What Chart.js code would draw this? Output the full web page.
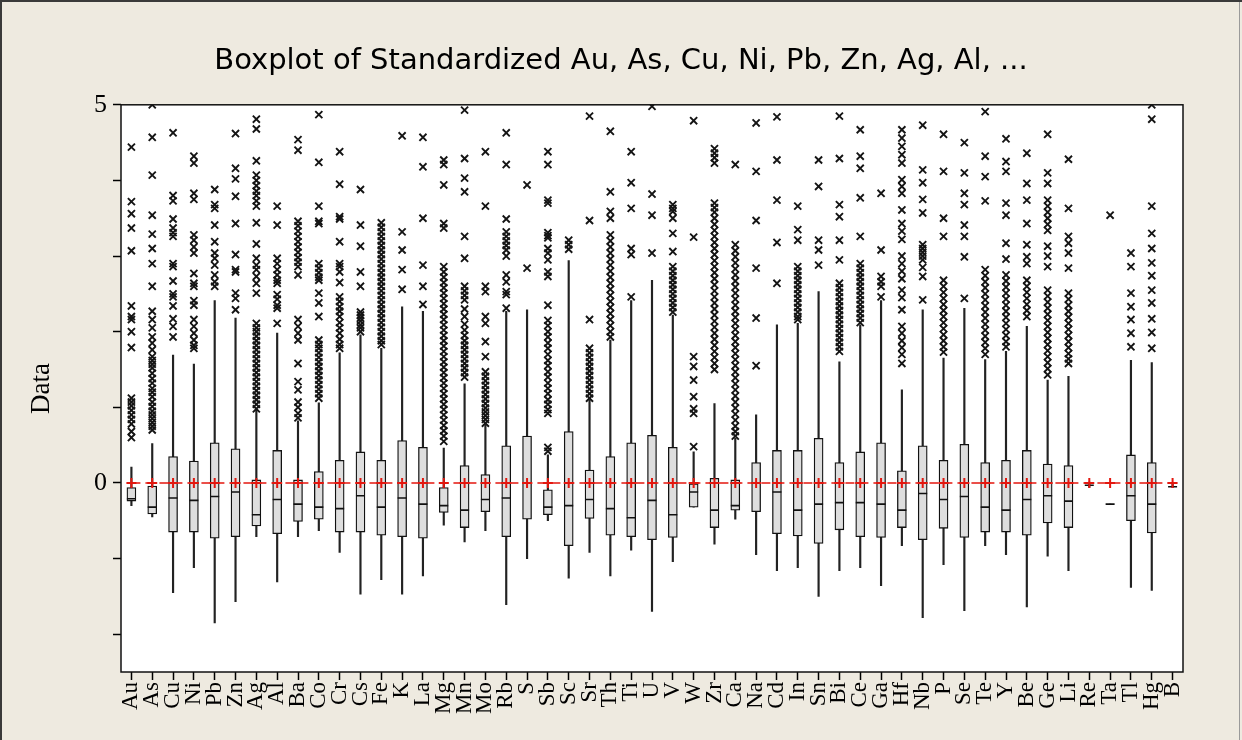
<!DOCTYPE html>
<html>
<head>
<meta charset="utf-8">
<script src="https://cdn.jsdelivr.net/npm/chart.js@4.4.1/dist/chart.umd.min.js"></script>
<style>
html, body { margin: 0; padding: 0; background: #EEEAE0; }
canvas { display: block; }
</style>
</head>
<body>
<canvas id="boxplot" width="1242" height="740"></canvas>
<script>
// standardized element values
const elements = ['Au', 'As', 'Cu', 'Ni', 'Pb', 'Zn', 'Ag', 'Al', 'Ba', 'Co', 'Cr', 'Cs', 'Fe', 'K', 'La', 'Mg', 'Mn', 'Mo', 'Rb', 'S',
    'Sb', 'Sc', 'Sr', 'Th', 'Ti', 'U', 'V', 'W', 'Zr', 'Ca', 'Na', 'Cd', 'In', 'Sn', 'Bi', 'Ce', 'Ga', 'Hf', 'Nb', 'P',
    'Se', 'Te', 'Y', 'Be', 'Ge', 'Li', 'Re', 'Ta', 'Tl', 'Hg', 'B'];

const whiskerHigh = [0.21, 0.52, 1.69, 1.57, 2.41, 2.18, 0.96, 1.98, 0.82, 1.06, 1.72, 1.96, 1.78, 2.33, 2.27, 0.46, 1.31, 0.77, 2.27, 2.29,
    0.37, 2.94, 1.1, 1.89, 2.41, 2.68, 2.22, 0.41, 1.05, 0.59, 0.9, 2.09, 2.11, 2.53, 1.6, 2.09, 2.41, 1.23, 2.29, 1.65,
    2.31, 1.63, 1.74, 2.07, 1.36, 1.41, 0.01, -0.28, 1.62, 1.59, 0.0];
const q3 = [-0.06, -0.04, 0.35, 0.29, 0.53, 0.45, 0.04, 0.43, 0.04, 0.15, 0.30, 0.41, 0.30, 0.56, 0.47, -0.06, 0.23, 0.11, 0.49, 0.62,
    -0.09, 0.68, 0.17, 0.35, 0.53, 0.63, 0.47, -0.01, 0.06, 0.04, 0.27, 0.43, 0.43, 0.59, 0.27, 0.41, 0.53, 0.16, 0.49, 0.30,
    0.51, 0.27, 0.30, 0.43, 0.25, 0.23, -0.03, -0.28, 0.37, 0.27, -0.05];
const median = [-0.21, -0.32, -0.2, -0.23, -0.18, -0.12, -0.42, -0.22, -0.28, -0.32, -0.34, -0.17, -0.32, -0.2, -0.28, -0.3, -0.36, -0.22, -0.2, 0.0,
    -0.32, -0.3, -0.22, -0.34, -0.46, -0.23, -0.42, -0.12, -0.36, -0.3, 0.0, -0.12, -0.36, -0.28, -0.26, -0.26, -0.28, -0.36, -0.14, -0.22,
    -0.18, -0.32, -0.36, -0.22, -0.17, -0.24, -0.03, -0.28, -0.17, -0.28, -0.05];
const q1 = [-0.24, -0.41, -0.65, -0.65, -0.73, -0.71, -0.57, -0.67, -0.51, -0.48, -0.65, -0.65, -0.69, -0.71, -0.73, -0.39, -0.59, -0.38, -0.71, -0.48,
    -0.42, -0.83, -0.47, -0.69, -0.71, -0.75, -0.72, -0.32, -0.59, -0.36, -0.38, -0.67, -0.70, -0.8, -0.62, -0.71, -0.72, -0.59, -0.75, -0.6,
    -0.72, -0.65, -0.65, -0.69, -0.53, -0.59, -0.03, -0.28, -0.5, -0.66, -0.05];
const whiskerLow = [-0.30, -0.45, -1.45, -1.12, -1.85, -1.57, -0.71, -1.31, -0.71, -0.63, -0.92, -1.47, -1.28, -1.47, -1.23, -0.56, -0.78, -0.63, -1.61, -1.0,
    -0.5, -1.26, -0.92, -1.23, -0.89, -1.7, -1.04, -0.32, -0.81, -0.48, -0.95, -1.16, -1.12, -1.5, -1.16, -1.12, -1.36, -0.83, -1.78, -1.08,
    -1.69, -0.83, -0.95, -1.64, -0.97, -1.16, -0.06, -0.28, -1.38, -1.42, -0.06];
const means = [0, 0, 0, 0, 0, 0, 0, 0, 0, 0, 0, 0, 0, 0, 0, 0, 0, 0, 0, 0,
    0, 0, 0, 0, 0, 0, 0, 0, 0, 0, 0, 0, 0, 0, 0, 0, 0, 0, 0, 0,
    0, 0, 0, 0, 0, 0, 0, 0, 0, 0, 0];

// outliers, one list per element (same order as elements)
const outliers = [
    [4.44, 3.72, 3.56, 3.37, 3.07, 2.34, 2.2, 2.16, 2.0, 1.79, 1.12, 1.07, 1.02, 0.96, 0.9, 0.84, 0.78, 0.68, 0.6],
    [5.0, 4.57, 4.07, 3.54, 3.29, 3.1, 2.9, 2.6, 2.27, 2.16, 2.05, 1.93, 1.85, 1.76, 1.67, 1.62, 1.57, 1.52, 1.45, 1.38, 1.32, 1.25, 1.2, 1.14, 1.07, 1.01, 0.95, 0.9, 0.85, 0.8, 0.75, 0.7],
    [4.63, 3.8, 3.73, 3.49, 3.37, 3.31, 3.26, 2.9, 2.86, 2.67, 2.5, 2.46, 2.34, 2.17, 2.07, 1.93],
    [4.32, 4.23, 3.83, 3.75, 3.28, 3.21, 3.12, 3.04, 2.77, 2.64, 2.6, 2.41, 2.35, 2.16, 2.07, 1.98, 1.89, 1.82, 1.78],
    [3.88, 3.68, 3.63, 3.41, 3.19, 3.04, 2.97, 2.88, 2.75, 2.66, 2.6],
    [4.62, 4.16, 4.02, 3.79, 3.43, 3.02, 2.82, 2.79, 2.51, 2.44, 2.29],
    [4.81, 4.68, 4.26, 4.07, 4.0, 3.93, 3.86, 3.8, 3.73, 3.66, 3.44, 3.16, 2.97, 2.88, 2.82, 2.73, 2.64, 2.51, 2.11, 2.05, 2.0, 1.94, 1.88, 1.82, 1.76, 1.7, 1.64, 1.58, 1.52, 1.46, 1.4, 1.34, 1.28, 1.22, 1.16, 1.1, 1.04, 0.98],
    [3.66, 3.41, 2.97, 2.9, 2.82, 2.75, 2.68, 2.64, 2.49, 2.43, 2.35, 2.31, 2.11],
    [4.54, 4.4, 3.46, 3.4, 3.33, 3.26, 3.19, 3.12, 3.05, 2.98, 2.92, 2.86, 2.75, 2.16, 2.07, 1.98, 1.89, 1.58, 1.34, 1.23, 1.07, 1.0, 0.92, 0.86],
    [4.87, 4.24, 3.66, 3.46, 3.43, 2.9, 2.84, 2.78, 2.72, 2.68, 2.51, 2.38, 2.2, 1.89, 1.83, 1.78, 1.72, 1.66, 1.6, 1.54, 1.48, 1.42, 1.36, 1.3, 1.24, 1.18, 1.12],
    [4.38, 3.95, 3.52, 3.49, 3.19, 2.9, 2.86, 2.79, 2.65, 2.46, 2.4, 2.33, 2.27, 2.2, 2.12, 2.05, 1.98, 1.9, 1.83, 1.78],
    [3.88, 3.41, 3.13, 2.79, 2.6, 2.26, 2.22, 2.18, 2.14, 2.09, 2.05, 2.0],
    [3.44, 3.38, 3.32, 3.26, 3.2, 3.14, 3.08, 3.02, 2.96, 2.9, 2.84, 2.78, 2.72, 2.66, 2.6, 2.54, 2.48, 2.42, 2.36, 2.3, 2.24, 2.18, 2.12, 2.06, 2.0, 1.94, 1.88, 1.83],
    [4.59, 3.32, 3.08, 2.82, 2.56],
    [4.57, 4.18, 3.5, 2.88, 2.6, 2.36],
    [4.27, 4.21, 3.94, 3.43, 3.37, 2.86, 2.79, 2.72, 2.65, 2.58, 2.51, 2.44, 2.37, 2.3, 2.23, 2.16, 2.09, 2.02, 1.95, 1.88, 1.81, 1.74, 1.67, 1.6, 1.53, 1.46, 1.39, 1.32, 1.25, 1.18, 1.11, 1.04, 0.97, 0.9, 0.83, 0.76, 0.69, 0.62, 0.55],
    [4.93, 4.29, 4.03, 3.85, 3.26, 2.97, 2.6, 2.54, 2.48, 2.42, 2.3, 2.2, 2.1, 2.02, 1.95, 1.88, 1.82, 1.76, 1.7, 1.64, 1.58, 1.52, 1.46, 1.4],
    [4.38, 3.66, 2.6, 2.53, 2.2, 2.11, 1.87, 1.67, 1.47, 1.41, 1.35, 1.29, 1.23, 1.17, 1.11, 1.05, 0.99, 0.94, 0.89, 0.84, 0.79],
    [4.63, 4.21, 3.49, 3.32, 3.26, 3.2, 3.14, 3.08, 3.0, 2.75, 2.66, 2.53, 2.49, 2.31],
    [3.94, 2.84],
    [4.38, 4.21, 3.74, 3.7, 3.31, 3.27, 3.24, 3.1, 3.04, 2.95, 2.79, 2.73, 2.35, 2.15, 2.08, 2.0, 1.93, 1.85, 1.78, 1.7, 1.62, 1.55, 1.47, 1.4, 1.32, 1.25, 1.18, 1.1, 1.04, 0.97, 0.92, 0.47, 0.42],
    [3.21, 3.15, 3.09],
    [4.85, 3.47, 2.16, 1.78, 1.72, 1.66, 1.6, 1.54, 1.48, 1.42, 1.36, 1.3, 1.24, 1.18, 1.12],
    [4.65, 3.85, 3.59, 3.5, 3.28, 3.2, 3.12, 3.04, 2.96, 2.88, 2.8, 2.72, 2.64, 2.56, 2.48, 2.4, 2.32, 2.24, 2.16, 2.08, 2.0, 1.93],
    [4.38, 3.97, 3.63, 3.1, 3.02, 2.46],
    [4.98, 3.82, 3.54, 3.04],
    [3.68, 3.63, 3.59, 3.5, 3.3, 3.06, 2.86, 2.8, 2.74, 2.68, 2.62, 2.56, 2.5, 2.44, 2.38, 2.32, 2.26],
    [4.79, 3.25, 1.67, 1.54, 1.36, 1.14, 0.98, 0.92, 0.48],
    [4.42, 4.36, 4.3, 4.23, 3.7, 3.64, 3.58, 3.5, 3.42, 3.34, 3.26, 3.18, 3.1, 3.02, 2.94, 2.86, 2.78, 2.7, 2.62, 2.54, 2.46, 2.38, 2.3, 2.22, 2.14, 2.06, 1.98, 1.9, 1.82, 1.74, 1.66, 1.58, 1.5],
    [4.21, 3.15, 3.07, 2.99, 2.91, 2.83, 2.75, 2.67, 2.59, 2.51, 2.43, 2.35, 2.27, 2.19, 2.11, 2.03, 1.95, 1.87, 1.79, 1.71, 1.63, 1.55, 1.47, 1.39, 1.31, 1.23, 1.15, 1.07, 0.99, 0.91, 0.83, 0.75, 0.68, 0.62],
    [4.76, 4.12, 3.47, 2.84, 2.18, 1.55],
    [4.84, 4.27, 3.74, 3.18, 2.64],
    [3.66, 3.35, 3.21, 2.86, 2.8, 2.74, 2.68, 2.62, 2.56, 2.5, 2.44, 2.38, 2.32, 2.26, 2.2, 2.16],
    [4.27, 3.92, 3.21, 3.08, 2.88],
    [4.85, 4.29, 3.68, 3.52, 3.21, 2.95, 2.64, 2.58, 2.52, 2.46, 2.4, 2.34, 2.28, 2.22, 2.16, 2.1, 2.04, 1.98, 1.92, 1.86, 1.8, 1.74],
    [4.67, 4.32, 4.16, 3.77, 3.26, 2.9, 2.84, 2.78, 2.72, 2.66, 2.6, 2.54, 2.48, 2.42, 2.36, 2.3, 2.24, 2.18, 2.12],
    [3.83, 3.08, 2.73, 2.66, 2.6, 2.46],
    [4.67, 4.56, 4.45, 4.34, 4.23, 4.01, 3.92, 3.83, 3.61, 3.43, 3.33, 3.22, 3.0, 2.9, 2.8, 2.7, 2.55, 2.45, 2.29, 2.07, 1.98, 1.88, 1.79, 1.7, 1.58],
    [4.73, 4.14, 3.97, 3.75, 3.57, 3.15, 3.1, 3.05, 3.0, 2.95, 2.85, 2.73, 2.42],
    [4.61, 4.12, 3.5, 3.26, 2.68, 2.6, 2.52, 2.44, 2.36, 2.28, 2.2, 2.12, 2.04, 1.96, 1.88, 1.8, 1.73],
    [4.5, 4.1, 3.83, 3.68, 3.41, 3.26, 2.99, 2.44],
    [4.91, 4.32, 4.05, 3.73, 2.82, 2.74, 2.66, 2.58, 2.5, 2.42, 2.34, 2.26, 2.18, 2.1, 2.02, 1.94, 1.86, 1.78, 1.7],
    [4.55, 4.25, 4.12, 3.7, 3.54, 3.17, 2.96, 2.75, 2.67, 2.59, 2.51, 2.43, 2.35, 2.27, 2.19, 2.11, 2.03, 1.95, 1.87, 1.8],
    [4.36, 3.96, 3.74, 3.43, 3.15, 2.99, 2.9, 2.68, 2.6, 2.52, 2.44, 2.36, 2.28, 2.2],
    [4.61, 4.1, 3.96, 3.74, 3.66, 3.58, 3.5, 3.42, 3.34, 3.13, 3.0, 2.86, 2.55, 2.47, 2.39, 2.31, 2.23, 2.15, 2.07, 1.99, 1.91, 1.83, 1.75, 1.67, 1.59, 1.51, 1.43],
    [4.28, 3.63, 3.26, 3.17, 3.04, 2.84, 2.51, 2.43, 2.35, 2.27, 2.19, 2.11, 2.03, 1.95, 1.87, 1.79, 1.71, 1.64, 1.58],
    [],
    [3.54],
    [3.04, 2.86, 2.51, 2.33, 2.16, 1.98, 1.8],
    [5.0, 4.81, 3.66, 3.3, 3.1, 2.91, 2.74, 2.55, 2.38, 2.17, 1.99, 1.78],
    []
];

const yTicks = [-2, -1, 0, 1, 2, 3, 4, 5];
const yLabelled = [0, 5];

var boxData = elements.map((e, i) => [q1[i], q3[i]]);
var whiskerData = elements.map((e, i) => [whiskerLow[i], whiskerHigh[i]]);
var outlierPoints = [];
outliers.forEach((list, i) => {
    list.forEach((v) => outlierPoints.push({ x: elements[i], y: v }));
});

// beige page, white plot area, black frame
const framePlugin = {
    id: 'frame',
    beforeDraw(chart) {
        const ctx = chart.ctx;
        const a = chart.chartArea;
        ctx.save();
        ctx.fillStyle = '#EEEAE0';
        ctx.fillRect(0, 0, chart.width, chart.height);
        ctx.fillStyle = '#FFFFFF';
        ctx.fillRect(a.left, a.top, a.right - a.left, a.bottom - a.top);
        ctx.strokeStyle = '#3A3A3A';
        ctx.lineWidth = 2;
        ctx.beginPath();
        ctx.moveTo(1, chart.height);
        ctx.lineTo(1, 1);
        ctx.lineTo(chart.width, 1);
        ctx.stroke();
        ctx.strokeStyle = '#9A9A9A';
        ctx.lineWidth = 1;
        ctx.beginPath();
        ctx.moveTo(chart.width - 2.5, 2);
        ctx.lineTo(chart.width - 2.5, chart.height);
        ctx.stroke();
        ctx.restore();
    },
    afterDraw(chart) {
        const ctx = chart.ctx;
        const a = chart.chartArea;
        ctx.save();
        ctx.strokeStyle = '#111';
        ctx.lineWidth = 1.5;
        ctx.strokeRect(a.left, a.top, a.right - a.left, a.bottom - a.top);
        ctx.restore();
    }
};

const ctx = document.getElementById('boxplot').getContext('2d');
new Chart(ctx, {
    type: 'bar',
    data: {
        labels: elements,
        datasets: [
            {
                label: 'Outliers',
                type: 'line',
                data: outlierPoints,
                showLine: false,
                pointStyle: 'crossRot',
                pointRadius: 5,
                pointBorderWidth: 1.9,
                pointBorderColor: '#151515',
                order: 1
            },
            {
                label: 'Mean',
                type: 'line',
                data: means,
                borderColor: '#E3170F',
                borderWidth: 1.5,
                borderDash: [9, 5],
                pointStyle: 'cross',
                pointRadius: 5,
                pointBorderWidth: 2,
                pointBorderColor: '#E3170F',
                order: 2
            },
            {
                label: 'Median',
                type: 'line',
                data: median,
                showLine: false,
                pointStyle: 'line',
                pointRadius: 4.5,
                pointBorderWidth: 1.6,
                pointBorderColor: '#111',
                order: 3
            },
            {
                label: 'IQR',
                data: boxData,
                backgroundColor: '#DEDEDE',
                borderColor: '#111',
                borderWidth: 1.3,
                borderSkipped: false,
                barThickness: 9,
                grouped: false,
                order: 4
            },
            {
                label: 'Whiskers',
                data: whiskerData,
                backgroundColor: '#222',
                barThickness: 1.5,
                grouped: false,
                order: 5
            }
        ]
    },
    options: {
        responsive: false,
        animation: false,
        layout: { padding: 0 },
        plugins: {
            legend: { display: false },
            tooltip: { enabled: false },
            title: {
                display: true,
                text: 'Boxplot of Standardized Au, As, Cu, Ni, Pb, Zn, Ag, Al, ...',
                color: '#000',
                font: { family: '"DejaVu Sans", sans-serif', size: 29, weight: 'normal' },
                padding: { top: 44, bottom: 26 }
            }
        },
        scales: {
            x: {
                offset: true,
                grid: { offset: false, drawOnChartArea: false, drawTicks: true, tickLength: 8, tickColor: '#000', tickWidth: 1.5 },
                border: { display: false },
                ticks: {
                    autoSkip: false,
                    minRotation: 90,
                    maxRotation: 90,
                    padding: 2,
                    color: '#000',
                    font: { family: '"Liberation Serif", serif', size: 23 }
                },
                afterFit: (s) => { s.height = 68; }
            },
            y: {
                min: -2.5,
                max: 5,
                afterBuildTicks: (s) => { s.ticks = yTicks.map((v) => ({ value: v })); },
                ticks: {
                    padding: 6,
                    color: '#000',
                    font: { family: '"Liberation Serif", serif', size: 26 },
                    callback: (v) => (yLabelled.includes(v) ? String(v) : '')
                },
                grid: { drawOnChartArea: false, tickLength: 8, tickColor: '#000', tickWidth: 1.5 },
                border: { display: false },
                title: {
                    display: true,
                    text: 'Data',
                    color: '#000',
                    font: { family: '"Liberation Serif", serif', size: 27 },
                    padding: { top: 26, bottom: 0 }
                },
                afterFit: (s) => { s.width = 121; }
            },
            // empty right-hand margin axis, keeps the plot frame where it is
            margin: {
                type: 'linear',
                position: 'right',
                min: -2.5,
                max: 5,
                ticks: { display: false },
                grid: { display: false },
                border: { display: false },
                afterFit: (s) => { s.width = 59; }
            }
        }
    },
    plugins: [framePlugin]
});
</script>
</body>
</html>
